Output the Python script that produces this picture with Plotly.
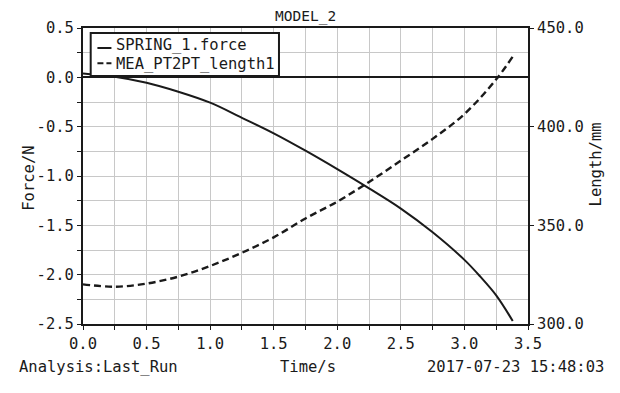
import plotly.graph_objects as go

# Data
t_force = [0.0, 0.25, 0.5, 0.75, 1.0, 1.25, 1.5, 1.75, 2.0, 2.25, 2.5, 2.75, 3.0, 3.125, 3.25, 3.38]
force = [0.04, 0.006, -0.055, -0.146, -0.257, -0.41, -0.567, -0.743, -0.93, -1.125, -1.33, -1.57, -1.85, -2.02, -2.21, -2.47]

t_len = [0.0, 0.25, 0.5, 0.75, 1.0, 1.25, 1.5, 1.75, 2.0, 2.25, 2.5, 2.75, 3.0, 3.25, 3.38]
length = [320.1, 318.9, 320.5, 324.0, 329.4, 336.1, 343.9, 353.5, 362.0, 372.0, 382.8, 393.8, 406.4, 424.0, 435.5]

x_ticks = [0.0, 0.5, 1.0, 1.5, 2.0, 2.5, 3.0, 3.5]
x_ticktext = ["0.0", "0.5", "1.0", "1.5", "2.0", "2.5", "3.0", "3.5"]
y_ticks = [0.5, 0.0, -0.5, -1.0, -1.5, -2.0, -2.5]
y_ticktext = ["0.5", "0.0", "-0.5", "-1.0", "-1.5", "-2.0", "-2.5"]
y2_ticks = [300, 350, 400, 450]
y2_ticktext = ["300.0", "350.0", "400.0", "450.0"]

FONT = "DejaVu Sans Mono"
FS = 15.5
INK = "#1a1a1a"
GRID = "#c8c8c8"
tf = dict(family=FONT, size=FS, color=INK)

fig = go.Figure()
fig.add_trace(go.Scatter(
    x=t_force, y=force, name="SPRING_1.force", mode="lines",
    line=dict(color=INK, width=2, shape="spline"), yaxis="y", showlegend=False))
fig.add_trace(go.Scatter(
    x=t_len, y=length, name="MEA_PT2PT_length1", mode="lines",
    line=dict(color=INK, width=2.4, dash="7px,4px", shape="spline"), yaxis="y2", showlegend=False))

fig.update_layout(
    width=612, height=385,
    margin=dict(l=75, r=92, t=20, b=69),
    paper_bgcolor="white", plot_bgcolor="white",
    font=tf,
    xaxis=dict(range=[0, 3.5], tickvals=x_ticks, ticktext=x_ticktext,
               showgrid=True, gridcolor=GRID, gridwidth=1,
               minor=dict(dtick=0.25, tick0=0, showgrid=True, gridcolor=GRID, gridwidth=1,
                          ticks="outside", ticklen=4, tickcolor=INK),
               ticks="outside", ticklen=4, tickcolor=INK,
               showline=True, linecolor=INK, linewidth=2, mirror=True,
               zeroline=False, tickfont=tf),
    yaxis=dict(range=[-2.5, 0.5], tickvals=y_ticks, ticktext=y_ticktext,
               showgrid=True, gridcolor=GRID, gridwidth=1,
               minor=dict(dtick=0.25, tick0=0, showgrid=True, gridcolor=GRID, gridwidth=1,
                          ticks="outside", ticklen=4, tickcolor=INK),
               ticks="outside", ticklen=4, tickcolor=INK,
               showline=True, linecolor=INK, linewidth=2,
               zeroline=True, zerolinecolor=INK, zerolinewidth=2,
               tickfont=tf),
    yaxis2=dict(range=[300, 450], tickvals=y2_ticks, ticktext=y2_ticktext,
                overlaying="y", side="right", showgrid=False, zeroline=False,
                ticks="outside", ticklen=4, tickcolor=INK,
                showline=True, linecolor=INK, linewidth=2,
                tickfont=tf),
)

# Text annotations (paper coords relative to plot area)
def ann(text, x, y, xanchor="center", yanchor="middle", angle=0, pad=1, yshift=0, size=FS):
    fig.add_annotation(text=text, xref="paper", yref="paper", x=x, y=y,
                       xanchor=xanchor, yanchor=yanchor, textangle=angle,
                       showarrow=False, font=dict(family=FONT, size=size, color=INK),
                       borderpad=pad, yshift=yshift)

ann("MODEL_2", 0.499, 1.0, yanchor="bottom", pad=0, yshift=1.5, size=14.5)
ann("Analysis:Last_Run", -0.149, -0.145, xanchor="left")
ann("Time/s", 0.5045, -0.145)
ann("2017-07-23 15:48:03", 1.176, -0.145, xanchor="right")
ann("Force/N", -0.122, 0.493, angle=-90)
ann("Length/mm", 1.1537, 0.5405, angle=-90)

# Legend box drawn in the reference's compact style
fig.add_shape(type="rect", xref="paper", yref="paper", x0=0.0173, x1=0.4404, y0=0.838, y1=0.983,
              line=dict(color=INK, width=2), fillcolor="white", layer="above")
fig.add_shape(type="line", xref="paper", yref="paper", x0=0.0324, x1=0.0639, y0=0.9324, y1=0.9324,
              line=dict(color=INK, width=2), layer="above")
fig.add_shape(type="line", xref="paper", yref="paper", x0=0.0324, x1=0.0639, y0=0.8807, y1=0.8807,
              line=dict(color=INK, width=2, dash="6px,3px"), layer="above")
ann(fig.data[0].name, 0.0716, 0.9416, xanchor="left", pad=0)
ann(fig.data[1].name, 0.0716, 0.8775, xanchor="left", pad=0)

fig.write_html("out.html")
